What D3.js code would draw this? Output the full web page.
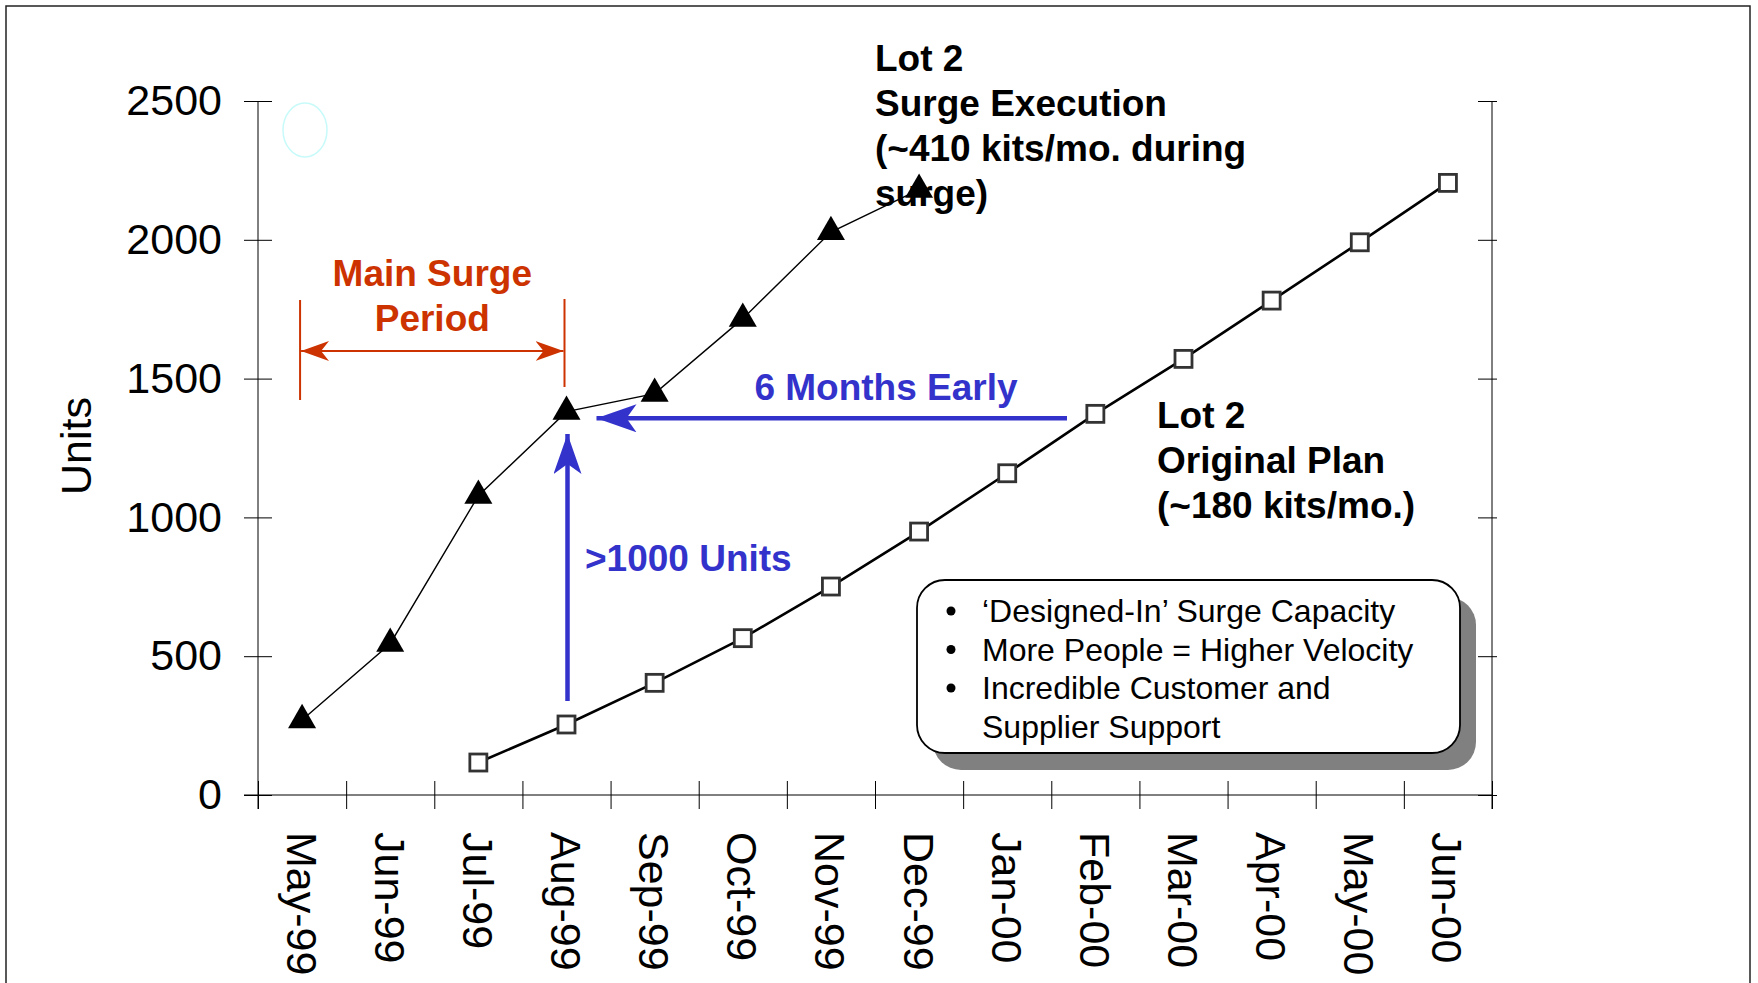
<!DOCTYPE html>
<html>
<head>
<meta charset="utf-8">
<script src="https://cdn.jsdelivr.net/npm/d3@7"></script>
<style>
  body { margin: 0; background: #fff; }
  text { font-family: "Liberation Sans", Arial, sans-serif; }
</style>
</head>
<body>
<div id="my_dataviz"></div>
<script>
// Data
const months = ["May-99", "Jun-99", "Jul-99", "Aug-99", "Sep-99", "Oct-99", "Nov-99",
  "Dec-99", "Jan-00", "Feb-00", "Mar-00", "Apr-00", "May-00", "Jun-00"];

const surgeMonths = ["May-99", "Jun-99", "Jul-99", "Aug-99", "Sep-99", "Oct-99", "Nov-99", "Dec-99"];
const surgeValues = [270, 545, 1078, 1381, 1446, 1716, 2028, 2181];

const planMonths = ["Jul-99", "Aug-99", "Sep-99", "Oct-99", "Nov-99", "Dec-99",
  "Jan-00", "Feb-00", "Mar-00", "Apr-00", "May-00", "Jun-00"];
const planValues = [117, 254, 404, 565, 751, 949, 1159, 1373, 1571, 1781, 1991, 2205];

const yTicks = [0, 500, 1000, 1500, 2000, 2500];

const surgeLabel = ["Lot 2", "Surge Execution", "(~410 kits/mo. during", "surge)"];
const planLabel = ["Lot 2", "Original Plan", "(~180 kits/mo.)"];
const periodLabel = ["Main Surge", "Period"];
const boxLines = ["\u2018Designed-In\u2019 Surge Capacity", "More People = Higher Velocity",
  "Incredible Customer and", "Supplier Support"];
const boxBullets = [true, true, true, false];

// Dimensions
const width = 1758, height = 983;
const red = "#cc3300", blue = "#3333cc";

const svg = d3.select("#my_dataviz")
  .append("svg")
    .attr("width", width)
    .attr("height", height);

// outer frame
svg.append("rect")
  .attr("x", 6).attr("y", 6)
  .attr("width", 1744).attr("height", 1000)
  .attr("fill", "none").attr("stroke", "#222").attr("stroke-width", 1.5);

// Scales
const x = d3.scaleBand().domain(months).range([258, 1492]);
const y = d3.scaleLinear().domain([0, 2500]).range([795, 101]);
const xc = d => x(d) + x.bandwidth() / 2;
const idx = d3.scaleLinear().domain([0, months.length]).range(x.range());

// Left axis (ticks cross the line)
const gy = svg.append("g")
  .attr("transform", `translate(${x.range()[0]},0)`)
  .call(d3.axisLeft(y).tickValues(yTicks).tickSize(14).tickPadding(22).tickFormat(d3.format("d")));
gy.select(".domain").remove();
gy.selectAll(".tick line").attr("x1", 14);
gy.selectAll("text").style("font-size", "43px").attr("fill", "#000");
gy.append("line").attr("y1", y(2500)).attr("y2", y(0) + 14).attr("stroke", "#000");

// Right axis
const gr = svg.append("g")
  .attr("transform", `translate(${x.range()[1]},0)`)
  .call(d3.axisRight(y).tickValues(yTicks).tickSize(5).tickFormat(""));
gr.select(".domain").remove();
gr.selectAll(".tick line").attr("x1", -14);
gr.append("line").attr("y1", y(2500)).attr("y2", y(0) + 14).attr("stroke", "#000");

// Bottom axis : boundary ticks + rotated labels
const gx = svg.append("g")
  .attr("transform", `translate(0,${y(0)})`)
  .call(d3.axisBottom(idx).tickValues(d3.range(months.length + 1)).tickSize(14).tickFormat(""));
gx.select(".domain").remove();
gx.selectAll(".tick line").attr("y1", -14);
gx.append("line").attr("x1", x.range()[0] - 14).attr("x2", x.range()[1]).attr("stroke", "#000");

const gl = svg.append("g")
  .attr("transform", `translate(0,${y(0)})`)
  .call(d3.axisBottom(x).tickSize(0));
gl.select(".domain").remove();
gl.selectAll("text")
  .attr("transform", "rotate(90)")
  .attr("x", 37).attr("y", 0).attr("dy", "0.36em")
  .style("text-anchor", "start")
  .style("font-size", "43px")
  .attr("fill", "#000");

// Y title
svg.append("text")
  .attr("transform", `translate(76,446) rotate(-90)`)
  .attr("text-anchor", "middle").attr("dy", "0.35em")
  .style("font-size", "43px")
  .text("Units");

// faint ellipse near the top of the axis
svg.append("ellipse")
  .attr("cx", 305).attr("cy", 130).attr("rx", 22).attr("ry", 27)
  .attr("fill", "none").attr("stroke", "#c8fafa").attr("stroke-width", 1.5);

// Series
const surge = surgeMonths.map((m, i) => ({m: m, v: surgeValues[i]}));
const plan = planMonths.map((m, i) => ({m: m, v: planValues[i]}));
const line = d3.line().x(d => xc(d.m)).y(d => y(d.v));

svg.append("path").datum(surge)
  .attr("d", line).attr("fill", "none").attr("stroke", "#000").attr("stroke-width", 1.4);
svg.append("path").datum(plan)
  .attr("d", line).attr("fill", "none").attr("stroke", "#000").attr("stroke-width", 2.6);

svg.selectAll(".tri").data(surge).join("path")
  .attr("class", "tri")
  .attr("d", d3.symbol(d3.symbolTriangle, 340))
  .attr("transform", d => `translate(${xc(d.m)},${y(d.v)})`)
  .attr("fill", "#000");

svg.selectAll(".sq").data(plan).join("rect")
  .attr("class", "sq")
  .attr("x", d => xc(d.m) - 8.5).attr("y", d => y(d.v) - 8.5)
  .attr("width", 17).attr("height", 17)
  .attr("fill", "#fff").attr("stroke", "#333").attr("stroke-width", 2.8);

// Arrowheads
const defs = svg.append("defs");
function head(id, color, len, half, notch) {
  defs.append("marker")
    .attr("id", id).attr("markerUnits", "userSpaceOnUse")
    .attr("viewBox", `${-len} ${-half} ${len + 1} ${half * 2}`)
    .attr("refX", 0).attr("refY", 0)
    .attr("markerWidth", len + 1).attr("markerHeight", half * 2)
    .attr("orient", "auto-start-reverse")
    .append("path")
      .attr("d", `M0,0 L${-len},${-half} L${-notch},0 L${-len},${half} Z`)
      .attr("fill", color);
}
head("redHead", red, 28, 10, 20);
head("blueHead", blue, 40, 14, 30);

// Main surge period
const xa = xc("May-99") - 2, xb = xc("Aug-99") - 2;
svg.append("line").attr("x1", xa).attr("x2", xa).attr("y1", 300).attr("y2", 400)
  .attr("stroke", red).attr("stroke-width", 2);
svg.append("line").attr("x1", xb).attr("x2", xb).attr("y1", 299).attr("y2", 387)
  .attr("stroke", red).attr("stroke-width", 2);
svg.append("line").attr("x1", xa + 1).attr("x2", xb - 1).attr("y1", 351).attr("y2", 351)
  .attr("stroke", red).attr("stroke-width", 2)
  .attr("marker-start", "url(#redHead)").attr("marker-end", "url(#redHead)");
svg.append("g").selectAll("text").data(periodLabel).join("text")
  .attr("x", (xa + xb) / 2).attr("y", (d, i) => 273 + i * 45)
  .attr("text-anchor", "middle").attr("dy", "0.35em")
  .style("font-size", "37px").style("font-weight", "bold").attr("fill", red)
  .text(d => d);

// 6 Months Early
svg.append("line")
  .attr("x1", 1067).attr("x2", xc("Aug-99") + 30)
  .attr("y1", y(1357)).attr("y2", y(1357))
  .attr("stroke", blue).attr("stroke-width", 4.5)
  .attr("marker-end", "url(#blueHead)");
svg.append("text")
  .attr("x", 886).attr("y", 387)
  .attr("text-anchor", "middle").attr("dy", "0.35em")
  .style("font-size", "37px").style("font-weight", "bold").attr("fill", blue)
  .text("6 Months Early");

// >1000 Units
svg.append("line")
  .attr("x1", xc("Aug-99") + 1).attr("x2", xc("Aug-99") + 1)
  .attr("y1", 701).attr("y2", 434)
  .attr("stroke", blue).attr("stroke-width", 4.5)
  .attr("marker-end", "url(#blueHead)");
svg.append("text")
  .attr("x", 585).attr("y", 558).attr("dy", "0.35em")
  .style("font-size", "37px").style("font-weight", "bold").attr("fill", blue)
  .text(">1000 Units");

// Series labels
function block(lines, x0, y0) {
  svg.append("g").selectAll("text").data(lines).join("text")
    .attr("x", x0).attr("y", (d, i) => y0 + i * 45).attr("dy", "0.35em")
    .style("font-size", "37px").style("font-weight", "bold").attr("fill", "#000")
    .text(d => d);
}
block(surgeLabel, 875, 58);
block(planLabel, 1157, 415);

// Text box with shadow
svg.append("rect")
  .attr("x", 933).attr("y", 597).attr("width", 543).attr("height", 173)
  .attr("rx", 28).attr("fill", "#808080");
svg.append("rect")
  .attr("x", 917).attr("y", 580).attr("width", 543).attr("height", 173)
  .attr("rx", 28).attr("fill", "#fff").attr("stroke", "#000").attr("stroke-width", 1.8);

const bl = svg.append("g").selectAll("g").data(boxLines).join("g")
  .attr("transform", (d, i) => `translate(0,${611 + i * 38.5})`);
bl.filter((d, i) => boxBullets[i]).append("circle")
  .attr("cx", 951).attr("cy", 0).attr("r", 4.5).attr("fill", "#000");
bl.append("text")
  .attr("x", 982).attr("dy", "0.35em")
  .style("font-size", "32px").attr("fill", "#000")
  .text(d => d);
</script>
</body>
</html>
